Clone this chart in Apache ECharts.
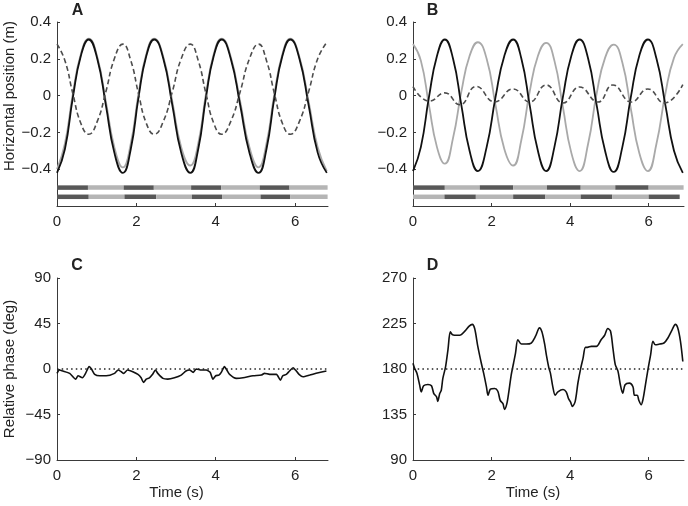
<!DOCTYPE html>
<html>
<head>
<meta charset="utf-8">
<script src="https://cdn.jsdelivr.net/npm/echarts@6/dist/echarts.min.js"></script>
<style>
html, body { margin: 0; padding: 0; background: #fff; }
#chart { width: 688px; height: 506px; }
</style>
</head>
<body>
<div id="chart"></div>
<script>
// ---- panel A: positions (m) ----
var tA = [0, 0.2, 0.4, 0.6, 0.8, 1.015, 1.23, 1.445, 1.66, 1.86, 2.055, 2.25, 2.45, 2.68, 2.905, 3.13, 3.36,
  3.56, 3.755, 3.95, 4.15, 4.38, 4.615, 4.85, 5.08, 5.28, 5.48, 5.68, 5.88, 6.11, 6.34, 6.57, 6.8];
var blackA = [-0.42, -0.29, -0.01, 0.215, 0.305, 0.2, -0.05, -0.31, -0.42, -0.29, -0.01, 0.215, 0.305, 0.2, -0.05, -0.31, -0.42,
  -0.29, -0.01, 0.215, 0.305, 0.2, -0.05, -0.31, -0.42, -0.29, -0.01, 0.215, 0.305, 0.2, -0.05, -0.31, -0.42];
var grayA = [-0.40, -0.26, 0.01, 0.225, 0.31, 0.21, -0.03, -0.28, -0.39, -0.26, 0.01, 0.225, 0.31, 0.21, -0.03, -0.28, -0.38,
  -0.26, 0.01, 0.225, 0.31, 0.21, -0.03, -0.28, -0.39, -0.26, 0.01, 0.225, 0.31, 0.21, -0.03, -0.28, -0.41];
var dashedA = [0.28, 0.19, 0.01, -0.15, -0.21, -0.14, 0.02, 0.2, 0.28, 0.19, 0.01, -0.15, -0.21, -0.14, 0.02, 0.2, 0.28,
  0.19, 0.01, -0.15, -0.21, -0.14, 0.02, 0.2, 0.28, 0.19, 0.01, -0.15, -0.21, -0.14, 0.02, 0.2, 0.29];

// ---- panel B: positions (m) ----
var tB = [0, 0.2, 0.405, 0.61, 0.81, 1.02, 1.23, 1.44, 1.65, 1.875, 2.1, 2.325, 2.55, 2.76, 2.97, 3.18, 3.39,
  3.6, 3.815, 4.03, 4.24, 4.46, 4.675, 4.89, 5.11, 5.33, 5.545, 5.76, 5.98, 6.2, 6.425, 6.645, 6.87];
var blackB = [-0.41, -0.28, -0.01, 0.215, 0.305, 0.2, -0.05, -0.3, -0.41, -0.28, -0.01, 0.215, 0.305, 0.2, -0.05, -0.3, -0.41,
  -0.28, -0.01, 0.215, 0.305, 0.2, -0.05, -0.3, -0.415, -0.28, -0.01, 0.215, 0.305, 0.2, -0.05, -0.3, -0.42];
var grayB = [0.28, 0.19, -0.05, -0.28, -0.37, -0.23, 0.02, 0.215, 0.29, 0.2, -0.05, -0.29, -0.38, -0.24, 0.02, 0.215, 0.287,
  0.19, -0.06, -0.31, -0.41, -0.26, 0.01, 0.205, 0.277, 0.18, -0.07, -0.31, -0.41, -0.26, 0.01, 0.205, 0.28];
var tBd = [0, 0.42, 0.81, 1.19, 1.61, 2.08, 2.55, 2.97, 3.39, 3.82, 4.24, 4.71, 5.09, 5.56, 5.98, 6.4, 6.87];
var dashedB = [0.049, -0.03, 0.015, -0.05, 0.05, -0.034, 0.036, -0.035, 0.058, -0.04, 0.047, -0.035, 0.058, -0.035, 0.036, -0.04, 0.06];

// phase bars: switch times; first segment dark (1) or light (0)
var barsA1 = [0, 0.78, 1.68, 2.44, 3.38, 4.14, 5.11, 5.86, 6.82];
var barsA2 = [0, 0.8, 1.7, 2.5, 3.4, 4.16, 5.13, 5.88, 6.82];
var barsB1 = [0, 0.81, 1.7, 2.55, 3.41, 4.27, 5.15, 6.0, 6.89];
var barsB2 = [0, 0.8, 1.6, 2.55, 3.37, 4.27, 5.07, 6.0, 6.79];
var firstA1 = 1, firstA2 = 1, firstB1 = 1, firstB2 = 0;

// ---- panel C: relative phase (deg) ----
var tC = [0, 0.06, 0.15, 0.32, 0.47, 0.53, 0.64, 0.72, 0.81, 0.87, 0.95, 1.08, 1.24, 1.45, 1.54, 1.62, 1.68, 1.78, 1.91,
  2.04, 2.12, 2.18, 2.25, 2.33, 2.41, 2.48, 2.54, 2.67, 2.79, 2.96, 3.13, 3.25, 3.34, 3.43, 3.51, 3.64, 3.76, 3.86,
  3.93, 4.0, 4.08, 4.14, 4.22, 4.28, 4.35, 4.52, 4.69, 4.94, 5.15, 5.23, 5.36, 5.53, 5.63, 5.69, 5.78, 5.86, 5.95,
  6.01, 6.1, 6.2, 6.37, 6.53, 6.7, 6.79];
var phaseC = [-4.3, -1, -2, -4.3, -10, -6.7, -8.7, -4.3, 2.3, 0, -5.3, -6.7, -6.7, -4.3, -1, -2.7, -4.3, -1, -2.7,
  -5.3, -8.7, -13.3, -10, -8.7, -5.3, -1, -4.3, -9.3, -10, -8.7, -6, -2, -1, -3.3, 0, -1, -1, -3.3,
  -10, -6.7, -6, -3.3, 2.3, -1, -5.3, -9.3, -8.7, -6.7, -6, -4.3, -5.3, -5.3, -11, -6.7, -5.3, -2, 1.3,
  -1, -5.3, -7.7, -6, -4.3, -2.7, -2];

// ---- panel D: relative phase (deg) ----
var tD = [0, 0.04, 0.1, 0.17, 0.21, 0.27, 0.38, 0.47, 0.53, 0.6, 0.63, 0.68, 0.72, 0.76, 0.83, 0.89, 0.95, 1.0, 1.06,
  1.19, 1.32, 1.43, 1.51, 1.57, 1.65, 1.74, 1.8, 1.87, 1.91, 1.97, 2.08, 2.16, 2.22, 2.29, 2.33, 2.39, 2.44, 2.5,
  2.56, 2.61, 2.67, 2.76, 2.88, 3.01, 3.12, 3.22, 3.28, 3.35, 3.4, 3.46, 3.5, 3.56, 3.62, 3.69, 3.82, 3.9, 3.96,
  4.01, 4.06, 4.13, 4.2, 4.27, 4.33, 4.39, 4.44, 4.54, 4.67, 4.79, 4.88, 4.96, 5.03, 5.09, 5.15, 5.22, 5.28, 5.34,
  5.4, 5.51, 5.6, 5.64, 5.71, 5.75, 5.81, 5.86, 5.91, 5.98, 6.05, 6.11, 6.17, 6.28, 6.39, 6.49, 6.6, 6.68, 6.74,
  6.81, 6.87];
var phaseD = [185.7, 180.7, 175.7, 164, 157.4, 163.4, 164.7, 163.4, 155.7, 152.4, 148, 155.7, 159, 170.7, 182.4, 199, 216.7, 214, 213.4,
  213.4, 217.4, 222.4, 224.1, 220, 202.4, 185.7, 175.7, 162.4, 154, 160, 160.7, 158, 149, 145.7, 140, 145.7, 157.4, 174,
  185.7, 195.7, 209, 204.7, 204.7, 205.7, 212.4, 220.7, 217, 205, 193, 181, 175.7, 162.4, 154, 157.4, 159.7, 157.4, 150.7,
  147.4, 143, 148, 166.4, 180.7, 190.7, 201.4, 201.4, 202.4, 202.4, 209, 213.4, 220, 217.4, 200.7, 184.4, 177.7, 164.4, 156,
  164.4, 166, 162.4, 154, 154, 149, 144.7, 150.7, 162.4, 179, 194, 207.4, 204, 204.7, 205.7, 210.7, 219, 224.1, 220.7,
  207.4, 187.4];

var xTicks = [0, 2, 4, 6];
var posTicks = [-0.4, -0.2, 0, 0.2, 0.4];
var phaseTicksC = [-90, -45, 0, 45, 90];
var phaseTicksD = [90, 135, 180, 225, 270];

// ---- helpers ----
var axisColor = "#3a3a3a";
var textColor = "#222";
var font = '"Liberation Sans", Arial, Helvetica, sans-serif';
var rowLevel = [-0.5, -0.55]; // y level of the two bar rows

function zip(xs, ys) {
  return xs.map(function(x, i) { return [x, ys[i]]; });
}

// [start, end, row level, dark?] for each segment between switch times
function barData(edges, first, row) {
  var out = [];
  for (var i = 0; i < edges.length - 1; i++) {
    out.push([edges[i], edges[i + 1], rowLevel[row], i % 2 === 0 ? first : 1 - first]);
  }
  return out;
}

function renderBar(params, api) {
  var p0 = api.coord([api.value(0), api.value(2)]);
  var p1 = api.coord([api.value(1), api.value(2)]);
  return {
    type: "rect",
    shape: { x: p0[0], y: p0[1] - 2.25, width: p1[0] - p0[0], height: 4.5 },
    style: { fill: api.value(3) ? "#585858" : "#b5b5b5" }
  };
}

function minusSign(v) {
  return String(v).replace("-", "\u2212");
}

function xAxisFor(grid, max) {
  return {
    type: "value", gridIndex: grid, min: 0, max: max,
    axisLine: { onZero: false, lineStyle: { color: axisColor, width: 1 } },
    axisTick: { show: true, inside: true, length: 3, customValues: xTicks, lineStyle: { color: axisColor } },
    axisLabel: { customValues: xTicks, color: textColor, fontSize: 15, fontFamily: font, margin: 8 },
    splitLine: { show: false }
  };
}

function yAxisFor(grid, min, max, ticks) {
  return {
    type: "value", gridIndex: grid, min: min, max: max,
    axisLine: { show: true, onZero: false, lineStyle: { color: axisColor, width: 1 } },
    axisTick: { show: true, inside: true, length: 3, customValues: ticks, lineStyle: { color: axisColor } },
    axisLabel: { customValues: ticks, formatter: minusSign, color: textColor, fontSize: 15, fontFamily: font, margin: 6 },
    splitLine: { show: false }
  };
}

function lineSeries(xi, data, color, width, type, smooth) {
  return {
    type: "line", xAxisIndex: xi, yAxisIndex: xi, data: data,
    symbol: "none", smooth: smooth, silent: true,
    lineStyle: { color: color, width: width, type: type }
  };
}

function refLine(value) {
  return {
    symbol: "none", silent: true, label: { show: false },
    lineStyle: { color: "#222", width: 1.5, type: [1.5, 3.2] },
    data: [{ yAxis: value }]
  };
}

function label(text, x, y, opts) {
  opts = opts || {};
  return {
    type: "text", x: x, y: y, rotation: opts.rotation || 0,
    style: {
      text: text, textAlign: "center", textVerticalAlign: "middle",
      fontSize: opts.size || 15, fontWeight: opts.weight || "normal",
      fontFamily: font, fill: textColor
    }
  };
}

var chart = echarts.init(document.getElementById("chart"));

var phaseCLine = lineSeries(2, zip(tC, phaseC), "#111", 1.6, "solid", 0.2);
phaseCLine.markLine = refLine(0);
var phaseDLine = lineSeries(3, zip(tD, phaseD), "#111", 1.6, "solid", 0.3);
phaseDLine.markLine = refLine(180);

chart.setOption({
  animation: false,
  backgroundColor: "#fff",
  grid: [
    { left: 57, top: 22, width: 271, height: 184, containLabel: false },
    { left: 413, top: 22, width: 271, height: 184, containLabel: false },
    { left: 57, top: 278, width: 271, height: 182, containLabel: false },
    { left: 413, top: 278, width: 271, height: 182, containLabel: false }
  ],
  xAxis: [xAxisFor(0, 6.83), xAxisFor(1, 6.9), xAxisFor(2, 6.83), xAxisFor(3, 6.9)],
  yAxis: [
    yAxisFor(0, -0.6, 0.4, posTicks),
    yAxisFor(1, -0.6, 0.4, posTicks),
    yAxisFor(2, -90, 90, phaseTicksC),
    yAxisFor(3, 90, 270, phaseTicksD)
  ],
  series: [
    lineSeries(0, zip(tA, grayA), "#a9a9a9", 1.8, "solid", true),
    lineSeries(0, zip(tA, blackA), "#111", 1.8, "solid", true),
    lineSeries(0, zip(tA, dashedA), "#4d4d4d", 1.6, [5, 3], true),
    {
      type: "custom", xAxisIndex: 0, yAxisIndex: 0, renderItem: renderBar, silent: true,
      encode: { x: [0, 1], y: 2 },
      data: barData(barsA1, firstA1, 0).concat(barData(barsA2, firstA2, 1))
    },
    lineSeries(1, zip(tB, grayB), "#a9a9a9", 1.8, "solid", true),
    lineSeries(1, zip(tB, blackB), "#111", 1.8, "solid", true),
    lineSeries(1, zip(tBd, dashedB), "#4d4d4d", 1.6, [5, 3], true),
    {
      type: "custom", xAxisIndex: 1, yAxisIndex: 1, renderItem: renderBar, silent: true,
      encode: { x: [0, 1], y: 2 },
      data: barData(barsB1, firstB1, 0).concat(barData(barsB2, firstB2, 1))
    },
    phaseCLine,
    phaseDLine
  ],
  graphic: [
    label("A", 77.5, 11, { size: 16, weight: "bold" }),
    label("B", 432.5, 11, { size: 16, weight: "bold" }),
    label("C", 77, 266, { size: 16, weight: "bold" }),
    label("D", 432.5, 266, { size: 16, weight: "bold" }),
    label("Horizontal position (m)", 10, 96, { rotation: Math.PI / 2 }),
    label("Relative phase (deg)", 10, 369, { rotation: Math.PI / 2 }),
    label("Time (s)", 176.5, 493),
    label("Time (s)", 533, 493)
  ]
});
</script>
</body>
</html>
